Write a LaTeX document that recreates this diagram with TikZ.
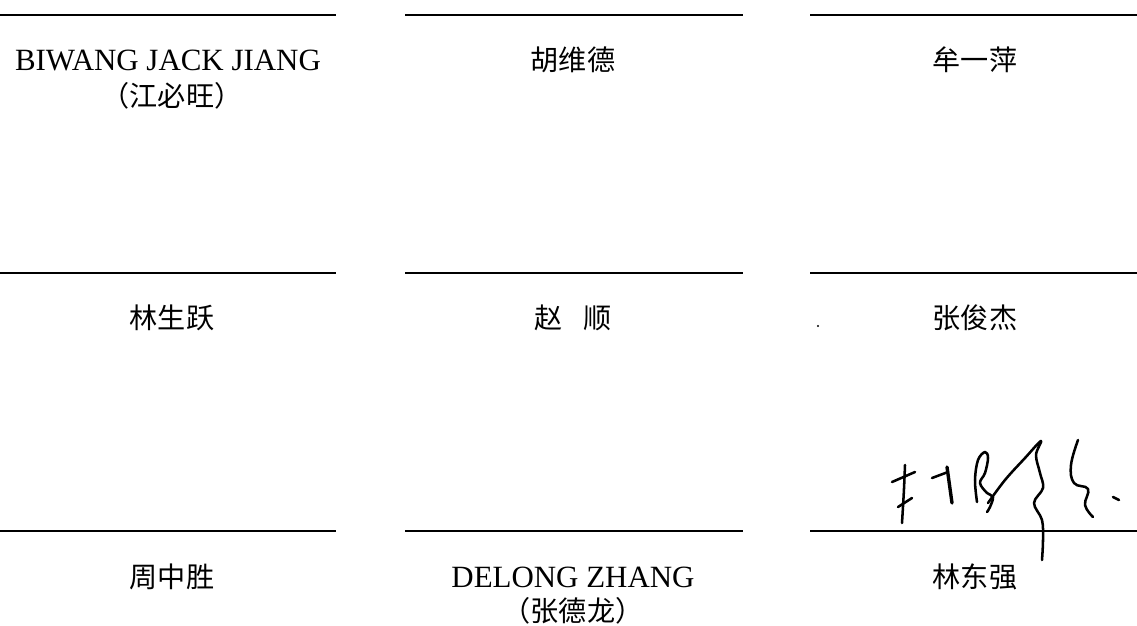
\documentclass[tikz,border=0pt]{standalone}
\usepackage{fontspec}
\setmainfont{Liberation Serif}
\newfontfamily\cjk{Noto Sans CJK SC}
\usetikzlibrary{positioning}

\begin{document}
\begin{tikzpicture}[x=0.025cm, y=-0.025cm,
    signline/.style={line width=1.2pt},
    latinlbl/.style={font=\fontsize{22}{26}\selectfont, inner sep=0pt},
    cjklbl/.style={font=\fontsize{20}{24}\selectfont\cjk, inner sep=0pt},
    ink/.style={line width=1.8pt, line cap=round, line join=round}]
    \path [use as bounding box] (0,0) rectangle (1137,625);
    % signature lines
    \foreach \y in {15,273,531}
        \foreach \xa/\xb in {0/336,405/743,810/1137}
            \draw[signline] (\xa,\y) -- (\xb,\y);
    % first row
    \node [latinlbl] (jiang)   at (168,60)  {BIWANG JACK JIANG};
    \node [cjklbl]   (jiangcn) at (172,96)  {（江必旺）};
    \node [cjklbl]   (hu)      at (573,60)  {胡维德};
    \node [cjklbl]   (mou)     at (975,60)  {牟一萍};
    % second row
    \node [cjklbl]   (linsy)   at (172,318) {林生跃};
    \node [cjklbl]   (zhao)    at (573,318) {赵\hspace{0.75em}顺};
    \node [cjklbl]   (zhangjj) at (975,318) {张俊杰};
    \fill (818,326) circle (1.2);
    % third row
    \node [cjklbl]   (zhou)    at (172,577) {周中胜};
    \node [latinlbl] (zhangdl) at (573,577) {DELONG ZHANG};
    \node [cjklbl]   (zhangcn) at (573,611) {（张德龙）};
    \node [cjklbl]   (linds)   at (975,577) {林东强};
    % handwritten signature
    \draw[ink] (892,482) -- (915,472);
    \draw[ink] (905,465) .. controls (904,490) .. (902,523);
    \draw[ink] (898,507) -- (912,498);
    \draw[ink] (932,478) -- (948,472);
    \draw[ink, line width=2.4pt] (947,467) .. controls (950,485) .. (952,503);
    \draw[ink] plot[smooth, tension=0.6] coordinates {(977,502) (975,480) (978,460) (985,452) (988,458) (985,473) (980,483) (987,493) (993,497) (990,507) (987,512)};
    \draw[ink] plot[smooth, tension=0.6] coordinates {(988,503) (1005,480) (1025,458) (1041,441) (1036,455) (1040,473) (1043,488) (1034,503) (1042,520) (1043,540) (1042,560)};
    \draw[ink] plot[smooth, tension=0.7] coordinates {(1078,440) (1071,465) (1074,483) (1088,489) (1085,505) (1093,517)};
    \draw[ink] (1113,497) -- (1119,500);
\end{tikzpicture}
\end{document}
